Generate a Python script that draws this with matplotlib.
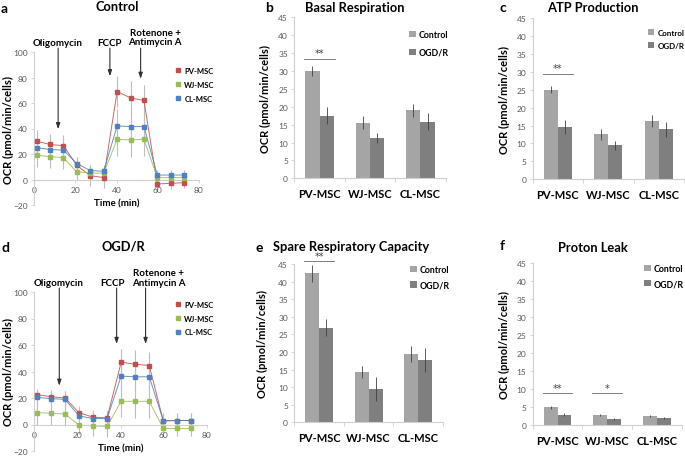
import matplotlib
matplotlib.use("Agg")
import matplotlib.pyplot as plt
from matplotlib.lines import Line2D

W, H = 685, 464
plt.rcParams['font.family'] = ['Lato', 'DejaVu Sans']

# Seahorse time course (a, d)
time_min = [1.3, 7.8, 14.3, 20.8, 27.3, 33.8, 40.3, 46.8, 53.3, 59.8, 66.3, 72.8]
series_names = ["PV-MSC", "WJ-MSC", "CL-MSC"]
series_colors = ["#C0504D", "#9BBB59", "#4F81BD"]

ctrl_pv = [30.0, 27.5, 26.5, 11.0, 3.0, 1.5, 69.0, 64.0, 62.0, -3.5, -3.0, -2.5]
ctrl_wj = [19.0, 18.0, 17.0, 6.0, 5.0, 5.0, 31.5, 31.0, 31.5, 1.5, 1.5, 1.5]
ctrl_cl = [25.0, 23.5, 23.0, 12.5, 7.0, 6.5, 42.0, 41.5, 41.5, 3.5, 3.5, 3.5]
ctrl_pv_err = [9.0, 8.5, 8.5, 7.0, 8.0, 8.0, 12.0, 13.0, 12.5, 4.5, 4.5, 4.5]
ctrl_wj_err = [9.0, 9.0, 9.0, 6.0, 6.0, 6.0, 13.0, 13.0, 13.0, 3.5, 3.5, 3.5]
ctrl_cl_err = [8.0, 8.0, 8.0, 5.5, 4.0, 4.0, 13.0, 13.0, 13.0, 4.0, 4.0, 4.0]

ogd_pv = [22.5, 21.0, 20.0, 9.0, 5.5, 5.0, 47.0, 45.5, 44.5, 2.5, 3.0, 3.0]
ogd_wj = [9.0, 8.5, 8.0, -0.5, -1.0, -1.5, 17.5, 17.5, 17.5, -3.0, -3.0, -3.0]
ogd_cl = [20.5, 19.5, 19.0, 6.5, 4.5, 4.5, 36.5, 36.0, 36.0, 3.0, 3.0, 3.0]
ogd_pv_err = [4.5, 5.0, 5.5, 5.0, 5.5, 5.5, 10.0, 10.5, 10.5, 5.5, 5.5, 5.5]
ogd_wj_err = [9.0, 9.0, 9.0, 7.0, 8.0, 8.0, 12.0, 12.5, 12.5, 5.5, 5.5, 5.5]
ogd_cl_err = [5.5, 6.0, 6.0, 6.0, 6.0, 6.0, 10.0, 10.0, 10.0, 5.5, 5.5, 5.5]

# Bar panels (b, c, e, f)
cell_types = ["PV-MSC", "WJ-MSC", "CL-MSC"]
basal_ctrl = [30.0, 15.5, 19.0]
basal_ctrl_err = [1.3, 1.8, 1.9]
basal_ogd = [17.5, 11.3, 15.8]
basal_ogd_err = [2.3, 1.5, 2.4]

atp_ctrl = [25.0, 12.5, 16.3]
atp_ctrl_err = [1.0, 1.6, 1.7]
atp_ogd = [14.6, 9.5, 13.9]
atp_ogd_err = [2.0, 1.3, 2.2]

spare_ctrl = [42.3, 14.3, 19.4]
spare_ctrl_err = [2.5, 1.8, 2.3]
spare_ogd = [26.9, 9.5, 17.8]
spare_ogd_err = [2.5, 3.5, 3.4]

leak_ctrl = [4.9, 2.9, 2.6]
leak_ctrl_err = [0.4, 0.3, 0.3]
leak_ogd = [2.9, 1.7, 1.9]
leak_ogd_err = [0.4, 0.3, 0.3]

CTRL_COLOR = "#A5A5A5"
OGD_COLOR = "#7F7F7F"
SPINE = "#D0D0D0"
TICK = "#595959"


def px_axes(fig, x0, y0, x1, y1):
    return fig.add_axes([x0 / W, 1 - y1 / H, (x1 - x0) / W, (y1 - y0) / H])


def fig_text(fig, x, y, s, **kw):
    fig.text(x / W, 1 - y / H, s, **kw)


def style_common(ax):
    for side in ["top", "right"]:
        ax.spines[side].set_visible(False)
    for side in ["left", "bottom"]:
        ax.spines[side].set_color(SPINE)
        ax.spines[side].set_linewidth(0.8)
    ax.tick_params(axis="y", colors=SPINE, labelcolor=TICK, labelsize=6,
                   length=2.5, width=0.6, pad=2)


def line_panel(fig, rect, data, errs, arrows, legend_xy, ylabel_x):
    ax = px_axes(fig, *rect)
    for vals, err, color, name in zip(data, errs, series_colors, series_names):
        ax.errorbar(time_min, vals, yerr=err, fmt="none", ecolor="#BDBDBD",
                    elinewidth=0.8, capsize=0, zorder=1)
        ax.plot(time_min, vals, color=color, lw=0.7, alpha=0.85, zorder=2)
        ax.plot(time_min, vals, ls="none", marker="s", ms=2.2, color=color,
                zorder=3, label=name)
    ax.set_xlim(0, 80)
    ax.set_ylim(-20, 100)
    ax.set_xticks([0, 20, 40, 60, 80])
    ax.set_yticks([-20, 0, 20, 40, 60, 80, 100])
    style_common(ax)
    ax.spines["bottom"].set_position(("data", 0))
    ax.tick_params(axis="x", colors=SPINE, labelcolor=TICK, labelsize=6,
                   length=2.5, width=0.6, pad=2)
    ax.set_xlabel("Time (min)", fontsize=7, fontweight="bold", labelpad=4)
    ax.set_ylabel("OCR (pmol/min/cells)", fontsize=8, fontweight="bold")
    x0, y0, x1, y1 = rect
    ax.yaxis.set_label_coords((ylabel_x - x0) / (x1 - x0), 0.5)
    for label, xa, ytxt, ytip, xt in arrows:
        ax.annotate("", xy=(xa, ytip), xytext=(xa, 103), annotation_clip=False,
                    arrowprops=dict(arrowstyle="-|>,head_length=0.35,head_width=0.12",
                                    color="#303030", lw=0.8, shrinkA=0, shrinkB=0))
        ax.text(xt, ytxt, label, ha="center", va="center", fontsize=7,
                fontweight="bold", linespacing=1.1, clip_on=False)
    handles = [Line2D([], [], ls="none", marker="s", ms=3.2, color=c) for c in series_colors]
    ax.legend(handles, series_names, loc="center left", frameon=False,
              bbox_to_anchor=(legend_xy[0] / W, 1 - legend_xy[1] / H),
              bbox_transform=fig.transFigure, borderpad=0,
              handlelength=0.6, handletextpad=0.5, labelspacing=0.9,
              borderaxespad=0, prop={"weight": "bold", "size": 5.5})
    return ax


def bar_panel(fig, rect, ctrl, ctrl_err, ogd, ogd_err, sig, legend_xy, spacing,
              ylabel_x, legend_size=6.3):
    ax = px_axes(fig, *rect)
    x = list(range(len(cell_types)))
    w = 0.28
    ax.bar([i - w / 2 for i in x], ctrl, w, color=CTRL_COLOR, label="Control")
    ax.bar([i + w / 2 for i in x], ogd, w, color=OGD_COLOR, label="OGD/R")
    ax.errorbar([i - w / 2 for i in x], ctrl, yerr=ctrl_err, fmt="none",
                ecolor="#404040", elinewidth=0.6, capsize=0)
    ax.errorbar([i + w / 2 for i in x], ogd, yerr=ogd_err, fmt="none",
                ecolor="#404040", elinewidth=0.6, capsize=0)
    ax.set_xlim(-0.5, 2.5)
    ax.set_ylim(0, 45)
    ax.set_yticks(range(0, 46, 5))
    ax.set_xticks(x)
    ax.set_xticklabels(cell_types, fontsize=8, fontweight="bold")
    ax.set_xticks([-0.5, 0.5, 1.5, 2.5], minor=True)
    style_common(ax)
    ax.tick_params(axis="x", which="major", length=0, pad=7)
    ax.tick_params(axis="x", which="minor", length=3, width=0.6, colors=SPINE)
    for idx, stars, yline in sig:
        ax.plot([idx - 0.3, idx + 0.3], [yline, yline], color="#7F7F7F", lw=0.7,
                clip_on=False)
        ax.text(idx, yline + 1.6, stars, ha="center", va="center", fontsize=7,
                family="DejaVu Sans", color="#404040", clip_on=False)
    ax.set_ylabel("OCR (pmol/min/cells)", fontsize=8, fontweight="bold")
    x0, y0, x1, y1 = rect
    ax.yaxis.set_label_coords((ylabel_x - x0) / (x1 - x0), 0.5)
    ax.legend(loc="center left", frameon=False,
              bbox_to_anchor=(legend_xy[0] / W, 1 - legend_xy[1] / H),
              bbox_transform=fig.transFigure, borderpad=0, borderaxespad=0,
              handlelength=0.75, handleheight=0.75, handletextpad=0.4,
              labelspacing=spacing, prop={"weight": "bold", "size": legend_size})
    return ax


fig = plt.figure(figsize=(W / 100, H / 100), dpi=100)

# a: control time course
line_panel(fig, (34, 53, 199, 206),
           [ctrl_pv, ctrl_wj, ctrl_cl], [ctrl_pv_err, ctrl_wj_err, ctrl_cl_err],
           [("Oligomycin", 11.7, 107.8, 39.5, 11.6),
            ("FCCP", 36.8, 107.8, 81.0, 36.8),
            ("Rotenone +\nAntimycin A", 51.7, 111.8, 79.0, 58.7)],
           (176, 85.5), 14)
# d: OGD/R time course
line_panel(fig, (34, 293, 207, 452),
           [ogd_pv, ogd_wj, ogd_cl], [ogd_pv_err, ogd_wj_err, ogd_cl_err],
           [("Oligomycin", 11.7, 107.3, 29.3, 11.2),
            ("FCCP", 38.2, 107.3, 60.8, 36.4),
            ("Rotenone +\nAntimycin A", 51.6, 111.0, 60.8, 57.5)],
           (176, 319), 14)

bar_panel(fig, (294.3, 18.3, 445.7, 179.3), basal_ctrl, basal_ctrl_err,
          basal_ogd, basal_ogd_err, [(0, "**", 33.4)], (409, 44.5), 1.0, 271)
bar_panel(fig, (532.7, 19, 684, 180.3), atp_ctrl, atp_ctrl_err,
          atp_ogd, atp_ogd_err, [(0, "**", 29.4)], (648, 40), 0.7, 510,
          legend_size=5.8)
bar_panel(fig, (294.3, 265, 443, 423.3), spare_ctrl, spare_ctrl_err,
          spare_ogd, spare_ogd_err, [(0, "**", 45.8)], (410, 278.3), 0.7, 268)
bar_panel(fig, (532.7, 264.3, 681.5, 426), leak_ctrl, leak_ctrl_err,
          leak_ogd, leak_ogd_err, [(0, "**", 8.8), (1, "*", 8.8)], (644, 277), 0.7, 510)

# titles and panel letters
title_kw = dict(fontsize=9.3, fontweight="bold", ha="center", va="center")
letter_kw = dict(fontsize=10, fontweight="bold", ha="left", va="center")
fig_text(fig, 117, 7, "Control", **title_kw)
fig_text(fig, 123, 247, "OGD/R", **title_kw)
fig_text(fig, 355, 8, "Basal Respiration", **title_kw)
fig_text(fig, 593, 8, "ATP Production", **title_kw)
fig_text(fig, 351, 247, "Spare Respiratory Capacity", **title_kw)
fig_text(fig, 593, 248, "Proton Leak", **title_kw)
fig_text(fig, 1, 9, "a", **letter_kw)
fig_text(fig, 1, 248, "d", **letter_kw)
fig_text(fig, 265, 8, "b", **letter_kw)
fig_text(fig, 500, 8, "c", **letter_kw)
fig_text(fig, 256, 248, "e", **letter_kw)
fig_text(fig, 500, 246, "f", **letter_kw)

fig.savefig("out.png", dpi=100)
